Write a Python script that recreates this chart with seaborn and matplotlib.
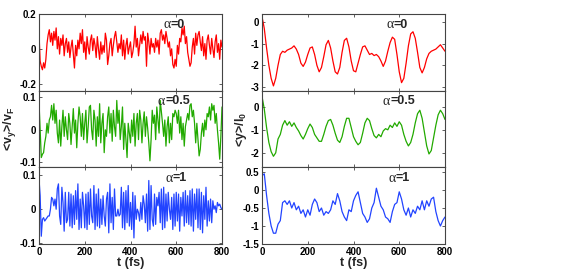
import numpy as np
import matplotlib
matplotlib.use("Agg")
import matplotlib.pyplot as plt
import seaborn as sns

# time grids (fs)
t_fine = np.arange(0, 801, 5)
t_coarse = np.arange(0, 801, 10)

# left column: <v_y>/v_F, sampled every 5 fs
vy_a0 = [0.09, -0.07, -0.1, -0.12, -0.08, -0.11, -0.06, 0.03, 0.08, 0.11,
         0.04, 0.09, 0.02, 0.1, 0.05, 0.12, 0.0, 0.07, -0.03, 0.06,
         0.02, 0.08, -0.04, 0.03, 0.06, -0.02, 0.04, -0.05, 0.01, 0.05,
         -0.03, -0.11, 0.02, -0.04, 0.05, 0.0, 0.09, 0.03, 0.11, -0.02,
         0.04, -0.06, 0.07, 0.01, -0.03, 0.05, 0.08, -0.01, 0.06, 0.02,
         -0.05, 0.07, 0.0, -0.06, 0.04, -0.03, 0.02, -0.02, 0.09, 0.05,
         -0.09, -0.04, 0.03, 0.06, -0.04, 0.02, 0.07, 0.1, 0.04, -0.02,
         0.03, 0.0, 0.08, -0.04, 0.05, -0.06, 0.02, 0.06, -0.03, 0.01,
         0.04, -0.05, -0.02, 0.03, 0.13, 0.01, 0.06, -0.04, 0.02, 0.08,
         0.03, 0.1, 0.05, 0.07, -0.1, 0.09, 0.04, -0.03, 0.06, 0.01,
         0.03, -0.02, 0.06, 0.01, 0.05, -0.03, 0.09, 0.11, 0.05, 0.08,
         0.03, 0.1, 0.06, 0.01, 0.04, -0.04, 0.0, -0.09, -0.11, -0.06,
         -0.1, 0.02, -0.03, 0.06, 0.04, 0.12, 0.08, 0.13, 0.03, 0.07,
         -0.02, -0.06, -0.1, -0.08, 0.01, 0.06, -0.03, 0.09, 0.02, 0.08,
         0.1, 0.04, -0.01, 0.07, -0.04, 0.03, -0.06, 0.05, 0.08, 0.02,
         -0.03, 0.06, 0.0, -0.05, 0.04, 0.08, -0.02, 0.03, -0.06, 0.05,
         0.01]
vy_a05 = [0.085, 0.0, -0.085, -0.075, -0.07, -0.04, -0.02, 0.02, -0.01, 0.03,
          0.04, 0.075, 0.03, 0.08, 0.02, 0.06, -0.01, -0.04, 0.03, -0.05,
          0.01, 0.06, -0.02, 0.04, 0.0, -0.03, 0.05, 0.02, -0.045, 0.01,
          0.065, -0.01, 0.03, -0.055, 0.02, 0.07, 0.04, -0.02, 0.05, -0.03,
          0.02, 0.06, -0.04, 0.01, 0.07, 0.075, 0.0, -0.03, 0.06, 0.03,
          -0.05, 0.04, -0.02, 0.08, -0.04, 0.02, 0.05, -0.07, 0.0, -0.02,
          0.04, 0.07, -0.01, 0.05, -0.035, 0.06, 0.01, -0.02, 0.09, 0.02,
          0.06, -0.03, 0.01, 0.07, -0.06, 0.02, -0.03, -0.085, 0.02, -0.01,
          -0.04, 0.03, -0.02, 0.05, -0.05, 0.02, 0.05, -0.03, 0.06, 0.03,
          -0.04, 0.02, 0.055, -0.02, 0.04, 0.005, -0.04, -0.095, -0.03, 0.06,
          0.02, 0.045, -0.03, 0.07, 0.03, -0.01, 0.09, 0.055, 0.02, -0.02,
          0.03, -0.05, 0.01, 0.04, -0.04, 0.02, -0.03, 0.05, 0.04, 0.06,
          0.05, 0.02, 0.06, -0.01, 0.04, -0.03, 0.02, -0.05, 0.01, 0.03,
          0.05, 0.03, 0.075, 0.08, 0.04, 0.06, 0.02, -0.04, 0.02, -0.03,
          -0.08, -0.06, -0.01, 0.02, -0.02, 0.03, 0.0, 0.05, 0.04, 0.07,
          0.03, 0.08, 0.06, 0.075, 0.02, 0.05, 0.0, -0.04, -0.09, -0.02,
          0.07]
vy_a1 = [0.09, 0.04, -0.08, -0.03, -0.025, -0.035, -0.03, -0.025, -0.02, -0.02,
         0.0, 0.035, 0.03, 0.01, 0.03, 0.0, 0.06, 0.075, -0.02, -0.045,
         0.065, 0.02, -0.065, 0.05, -0.04, -0.03, 0.05, -0.05, 0.045, -0.055,
         0.04, -0.045, 0.055, -0.03, 0.075, -0.06, 0.03, -0.055, 0.05, 0.01,
         -0.055, 0.045, -0.06, 0.05, -0.045, 0.06, -0.02, -0.04, 0.07, -0.06,
         0.045, -0.05, 0.06, -0.055, 0.03, -0.045, 0.04, -0.02, -0.05, 0.03,
         0.05, -0.07, 0.075, -0.04, 0.035, -0.06, 0.06, -0.02, -0.02, 0.0,
         -0.02, -0.015, 0.065, -0.055, 0.05, -0.06, 0.055, -0.04, 0.07, -0.05,
         0.02, -0.06, 0.05, -0.085, 0.04, -0.03, 0.0, -0.01, -0.035, 0.02,
         -0.03, 0.04, 0.015, -0.04, 0.045, -0.065, 0.085, -0.06, 0.07, -0.03,
         -0.05, 0.045, -0.045, 0.035, 0.01, 0.05, -0.04, 0.06, -0.06, 0.065,
         -0.055, 0.045, -0.035, 0.05, 0.0, -0.03, 0.035, -0.06, 0.045, -0.05,
         0.05, -0.035, 0.045, -0.065, 0.035, -0.02, 0.05, -0.05, 0.055, -0.04,
         0.04, -0.045, 0.055, -0.05, 0.06, -0.065, 0.045, -0.03, 0.06, -0.055,
         0.06, -0.06, 0.05, -0.07, 0.04, -0.03, 0.065, -0.05, 0.025, -0.035,
         0.03, -0.04, 0.025, 0.0, 0.01, -0.01, 0.02, 0.01, 0.015, 0.005,
         0.0]

# right column: <y>/l_0, sampled every 10 fs
y_a0 = [0.25, -0.3, -1.2, -2.0, -2.6, -2.95, -2.6, -2.0, -1.5, -1.35,
        -1.4, -1.3, -1.25, -1.2, -1.1, -1.25, -1.5, -1.9, -2.05, -1.85,
        -1.5, -1.2, -1.15, -1.5, -2.0, -2.3, -2.1, -1.6, -1.05, -0.85,
        -1.2, -1.8, -2.3, -2.4, -2.1, -1.4, -0.85, -0.75, -1.15, -1.8,
        -2.25, -2.3, -1.9, -1.5, -1.15, -1.1, -1.3, -1.5, -1.45, -1.55,
        -1.5, -1.6, -1.8, -2.05, -1.8, -1.35, -0.95, -0.7, -0.8, -1.5,
        -2.3, -2.8, -2.6, -1.9, -1.1, -0.55, -0.45, -0.75, -1.4, -2.1,
        -2.35, -2.1, -1.7, -1.45, -1.35, -1.3, -1.25, -1.15, -1.05, -1.2,
        -1.35]
y_a05 = [0.45, -0.1, -0.9, -1.55, -1.95, -2.15, -2.0, -1.4, -1.2, -0.8,
         -0.6, -0.8, -0.65, -0.85, -0.7, -0.9, -1.05, -1.25, -1.4, -1.2,
         -0.95, -0.75, -0.9, -1.2, -1.35, -1.5, -1.5, -1.2, -0.85, -0.6,
         -0.55, -0.8, -1.15, -1.45, -1.55, -1.3, -0.85, -0.5, -0.5, -0.9,
         -1.3, -1.5, -1.65, -1.55, -1.15, -0.7, -0.5, -0.6, -0.95, -1.25,
         -1.35, -1.2, -1.3, -1.05, -0.95, -1.0, -0.8, -0.9, -0.7, -0.85,
         -0.65, -0.8, -1.2, -1.5, -1.7, -1.55, -1.2, -0.7, -0.3, -0.15,
         -0.5, -1.1, -1.7, -2.05, -1.9, -1.35, -0.8, -0.35, -0.15, -0.3,
         -0.55]
y_a1 = [0.4, 0.45, -0.15, -0.65, -1.0, -1.2, -1.2, -0.95, -0.85, -0.35,
        -0.3, -0.4, -0.3, -0.5, -0.35, -0.55, -0.45, -0.65, -0.55, -0.75,
        -0.55, -0.7, -0.4, -0.25, -0.35, -0.6, -0.5, -0.7, -0.6, -0.65,
        -0.55, -0.3, -0.4, -0.1, -0.3, -0.6, -0.75, -0.85, -0.55, -0.6,
        -0.3, -0.15, -0.05, -0.35, -0.65, -0.75, -0.9, -0.8, -0.5, -0.35,
        0.05, -0.2, -0.45, -0.55, -0.75, -0.8, -0.9, -0.6, -0.4, -0.35,
        -0.05, -0.25, -0.55, -0.7, -0.5, -0.75, -0.55, -0.65, -0.45, -0.55,
        -0.3, -0.55, -0.3, -0.45, -0.25, -0.2, -0.6, -0.85, -1.0, -0.85,
        -0.75]

alpha_labels = ["0", "0.5", "1"]
colors = ["#ff0000", "#22aa00", "#2244ff"]
x_ticks = [0, 200, 400, 600, 800]

left_yticks = [[-0.2, 0, 0.2], [-0.1, 0, 0.1], [-0.1, 0, 0.1]]
left_yticklabels = [["-0.2", "0", "0.2"], ["-0.1", "0", "0.1"], ["-0.1", "0", "0.1"]]
left_ylims = [(-0.24, 0.2), (-0.115, 0.12), (-0.103, 0.124)]
right_yticks = [[-3, -2, -1, 0], [-2, -1, 0], [-1.5, -1, -0.5, 0, 0.5]]
right_yticklabels = [["-3", "-2", "-1", "0"], ["-2", "-1", "0"],
                     ["-1.5", "-1", "-0.5", "0", "0.5"]]
right_ylims = [(-3.17, 0.37), (-2.63, 0.7), (-1.5, 0.63)]

sns.set_theme(style="ticks", rc={
    "xtick.direction": "in", "ytick.direction": "in",
    "xtick.top": True, "ytick.right": True,
    "xtick.major.size": 2.5, "ytick.major.size": 2.5,
    "xtick.major.width": 0.6, "ytick.major.width": 0.6,
    "axes.linewidth": 0.8, "axes.edgecolor": "#444444",
    "xtick.color": "#444444", "ytick.color": "#444444",
    "xtick.labelcolor": "black", "ytick.labelcolor": "black",
    "xtick.major.pad": 2, "ytick.major.pad": 2,
})
plt.rcParams["font.family"] = ["Liberation Sans", "DejaVu Sans"]
plt.rcParams["mathtext.fontset"] = "custom"
plt.rcParams["mathtext.rm"] = "Liberation Sans"
plt.rcParams["mathtext.bf"] = "Liberation Sans:bold"
plt.rcParams["mathtext.it"] = "Liberation Sans:italic"
plt.rcParams["axes.unicode_minus"] = False

fig = plt.figure(figsize=(5.72, 2.73), dpi=100)
W, H = 572, 273
panel_h = (244 - 14) / 3


def make_axes(x0, row):
    top = 14 + row * panel_h
    return fig.add_axes([x0 / W, 1 - (top + panel_h) / H, 183 / W, panel_h / H])


left_data = [vy_a0, vy_a05, vy_a1]
right_data = [y_a0, y_a05, y_a1]
left_lab_x = [0.678, 0.65, 0.692]
right_lab_x = [0.678, 0.66, 0.69]

for row in range(3):
    for col, (x0, t, data, yt, ytl, yl, labx) in enumerate([
            (39, t_fine, left_data, left_yticks, left_yticklabels, left_ylims, left_lab_x),
            (262, t_coarse, right_data, right_yticks, right_yticklabels, right_ylims, right_lab_x)]):
        ax = make_axes(x0, row)
        sns.lineplot(x=t, y=data[row], ax=ax, color=colors[row], lw=0.9,
                     estimator=None)
        ax.set_xlim(0, 800)
        ax.set_ylim(*yl[row])
        ax.set_xticks(x_ticks)
        ax.set_yticks(yt[row])
        ax.set_yticklabels(ytl[row], fontsize=7, fontweight="bold")
        if row == 2:
            ax.set_xticklabels([str(v) for v in x_ticks], fontsize=7, fontweight="bold")
            ax.set_xlabel("t (fs)", fontsize=9, fontweight="bold", labelpad=0)
        else:
            ax.set_xticklabels([])
            ax.set_xlabel("")
        ax.set_ylabel("")
        # alpha in a serif face, "=value" in bold sans
        a_txt = ax.text(labx[row], 0.86, "α", transform=ax.transAxes,
                        ha="left", va="center", fontsize=10,
                        family=["Liberation Serif", "DejaVu Serif"])
        ax.annotate("=" + alpha_labels[row], xy=(1.0, 0.5), xycoords=a_txt,
                    ha="left", va="center", fontsize=9, fontweight="bold")
        if row == 1:
            if col == 0:
                ax.set_ylabel(r"<v$_\mathbf{y}$>/v$_\mathbf{F}$", fontsize=9,
                              fontweight="bold", labelpad=1)
            else:
                ax.set_ylabel(r"<y>/l$_\mathbf{0}$", fontsize=9,
                              fontweight="bold", labelpad=1)

fig.savefig("out.png", dpi=100)
